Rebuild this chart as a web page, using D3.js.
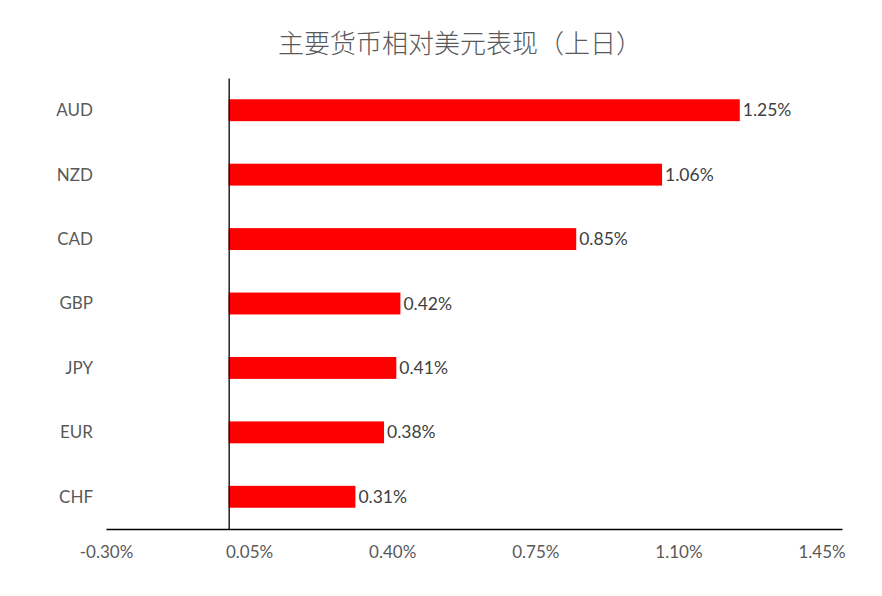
<!DOCTYPE html>
<html><head><meta charset="utf-8">
<script src="https://cdn.jsdelivr.net/npm/d3@7"></script>
<style>body{margin:0;background:#fff;}svg{display:block;}</style>
</head><body>
<script>
const categories = ["AUD","NZD","CAD","GBP","JPY","EUR","CHF"];
const values = [1.25,1.06,0.85,0.42,0.41,0.38,0.31];
const tickValues = [-0.30,0.05,0.40,0.75,1.10,1.45];
const title = "主要货币相对美元表现（上日）";

const W=882,H=596;
const m={left:106,right:40,top:78,bottom:67};
const svg=d3.select("body").append("svg").attr("width",W).attr("height",H);
svg.append("rect").attr("width",W).attr("height",H).attr("fill","#fff");

const x=d3.scaleLinear().domain([-0.30,1.50]).range([m.left,W-m.right]);
const y=d3.scaleBand().domain(categories).range([m.top,H-m.bottom]).paddingInner(0.66).paddingOuter(0.33);

svg.append("text").attr("x",460).attr("y",53).attr("text-anchor","middle")
  .attr("font-family","'Noto Sans CJK SC',sans-serif").attr("font-weight",300)
  .attr("font-size",26).attr("fill","#595959").text(title);

const font="Lato, 'Open Sans', sans-serif";

svg.selectAll("rect.bar").data(values).join("rect").attr("class","bar")
  .attr("x",x(0)).attr("y",(d,i)=>y(categories[i]))
  .attr("width",d=>x(d)-x(0)).attr("height",y.bandwidth()).attr("fill","#ff0000");

svg.selectAll("text.val").data(values).join("text").attr("class","val")
  .attr("x",d=>x(d)+3).attr("y",(d,i)=>y(categories[i])+y.bandwidth()/2).attr("dy","0.35em")
  .attr("font-family",font).attr("font-size",17.5).attr("fill","#404040")
  .text(d=>d.toFixed(2)+"%");

// x axis
const xa=svg.append("g").attr("transform",`translate(0,${H-m.bottom})`)
  .call(d3.axisBottom(x).tickValues(tickValues).tickSize(0).tickPadding(17).tickFormat(d=>d.toFixed(2)+"%"));
xa.select(".domain").attr("stroke","#000").attr("stroke-width",1.3);
xa.selectAll("text").attr("font-family",font).attr("font-size",17).attr("fill","#595959");

// y axis at zero
const ya=svg.append("g").attr("transform",`translate(${x(0)},0)`)
  .call(d3.axisLeft(y).tickSize(0).tickPadding(0).tickFormat(""));
ya.select(".domain").attr("stroke","#000").attr("stroke-width",1.3);

svg.selectAll("text.cat").data(categories).join("text").attr("class","cat")
  .attr("x",93).attr("y",d=>y(d)+y.bandwidth()/2).attr("dy","0.35em").attr("text-anchor","end")
  .attr("font-family",font).attr("font-size",17).attr("fill","#595959").text(d=>d);
</script>
</body></html>
